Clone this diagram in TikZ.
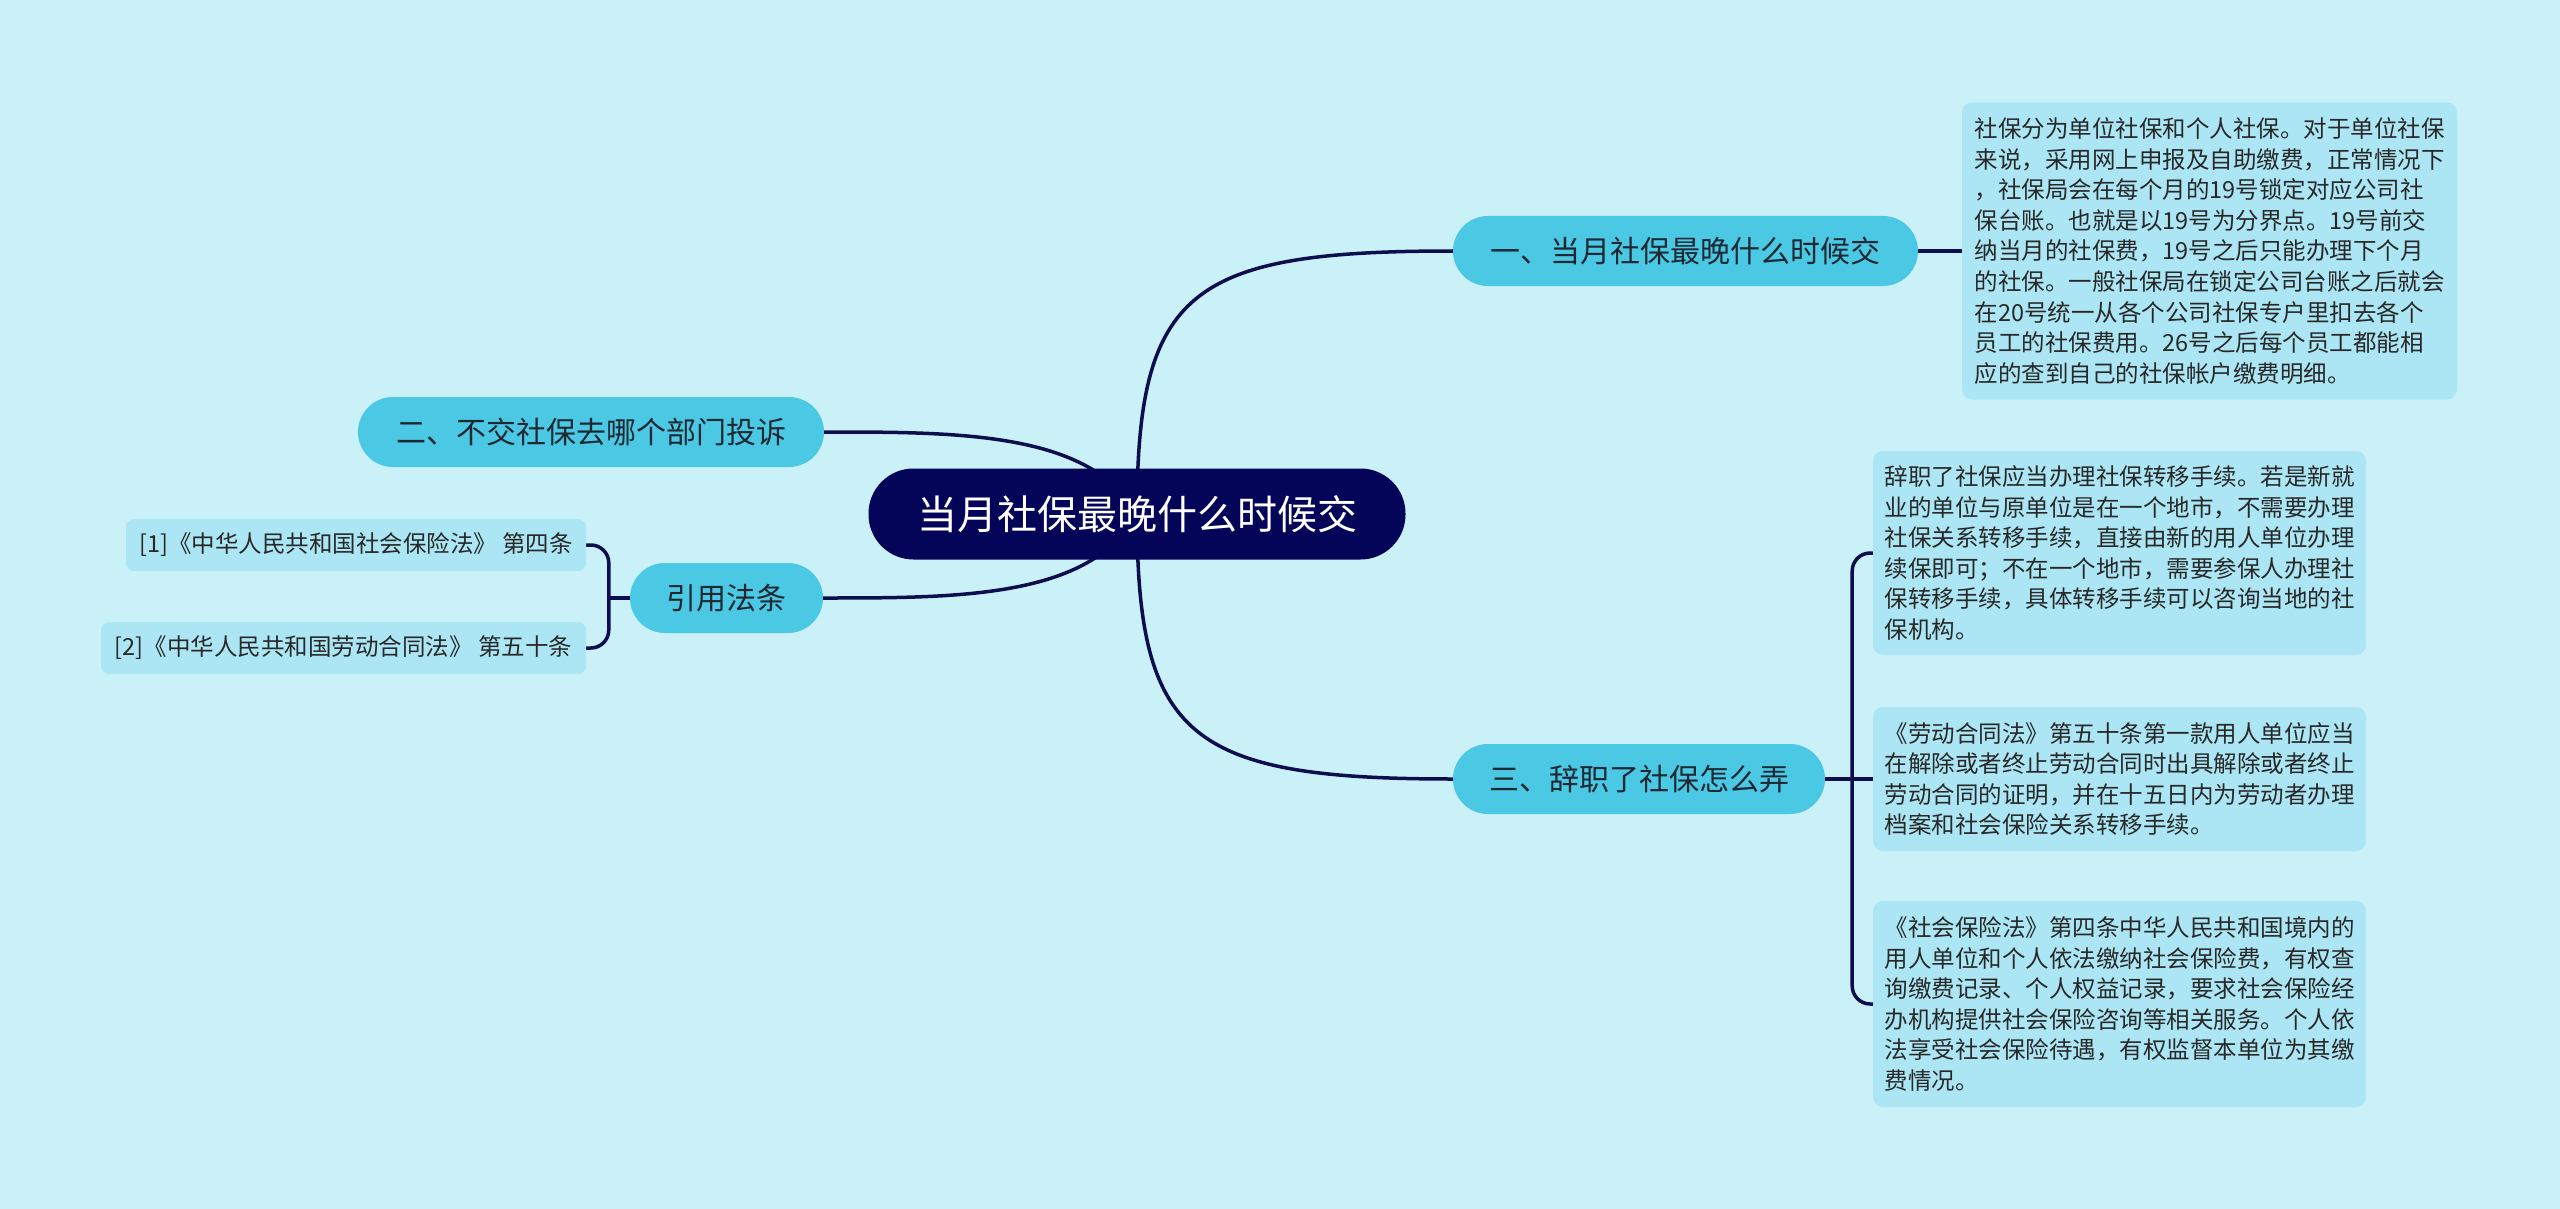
\documentclass[tikz,border=0pt]{standalone}
\usepackage{fontspec}
\setmainfont{Noto Sans CJK SC}
\pgfdeclarelayer{bg}
\pgfdeclarelayer{edges}
\pgfsetlayers{bg,edges,main}
\definecolor{bgc}{RGB}{202,240,248}
\definecolor{rootc}{RGB}{4,4,88}
\definecolor{topicc}{RGB}{75,200,228}
\definecolor{notec}{RGB}{172,230,244}
\definecolor{edgec}{RGB}{14,14,78}
\definecolor{textc}{RGB}{30,40,50}
\definecolor{textd}{RGB}{40,40,40}
\tikzset{
  edge/.style={draw=edgec, line width=3.5pt},
  rootbox/.style={fill=rootc, rounded corners=45pt, minimum width=537pt, minimum height=91pt, text=white, font=\fontsize{40}{48}\selectfont, inner sep=0pt},
  topicbox/.style={fill=topicc, rounded corners=35pt, minimum height=70pt, text=textc, font=\fontsize{30}{36}\selectfont, inner sep=0pt},
  notebox/.style={fill=notec, rounded corners=10pt, align=left, text=textd, font=\fontsize{23.5}{30.6}\selectfont, inner sep=0pt},
  refbox/.style={fill=notec, rounded corners=8pt, minimum height=52pt, text=textd, font=\fontsize{23.5}{28}\selectfont, inner sep=0pt},
}
\begin{document}
\begin{tikzpicture}[x=1pt,y=-1pt]
\useasboundingbox (0,0) rectangle (2560,1209);
\begin{pgfonlayer}{bg}
\fill[bgc] (0,0) rectangle (2560,1209);
\end{pgfonlayer}

\node[rootbox] (root) at (1137,514) {当月社保最晚什么时候交};

\node[topicbox, minimum width=465pt] (b1) at (1685.5,251) {一、当月社保最晚什么时候交};
\node[topicbox, minimum width=372pt] (b3) at (1639,779) {三、辞职了社保怎么弄};
\node[topicbox, minimum width=466pt] (b2) at (591,432) {二、不交社保去哪个部门投诉};
\node[topicbox, minimum width=193pt] (bref) at (726.5,598) {引用法条};

\node[refbox, minimum width=460pt] (r1) at (356,545) {[1]《中华人民共和国社会保险法》 第四条};
\node[refbox, minimum width=485pt] (r2) at (343.5,648) {[2]《中华人民共和国劳动合同法》 第五十条};

\node[notebox, minimum width=495pt, minimum height=297pt] (t1) at (2209.5,251) {社保分为单位社保和个人社保。对于单位社保\\来说，采用网上申报及自助缴费，正常情况下\\，社保局会在每个月的19号锁定对应公司社\\保台账。也就是以19号为分界点。19号前交\\纳当月的社保费，19号之后只能办理下个月\\的社保。一般社保局在锁定公司台账之后就会\\在20号统一从各个公司社保专户里扣去各个\\员工的社保费用。26号之后每个员工都能相\\应的查到自己的社保帐户缴费明细。};

\node[notebox, minimum width=493pt, minimum height=204pt] (t2) at (2119.5,553) {辞职了社保应当办理社保转移手续。若是新就\\业的单位与原单位是在一个地市，不需要办理\\社保关系转移手续，直接由新的用人单位办理\\续保即可；不在一个地市，需要参保人办理社\\保转移手续，具体转移手续可以咨询当地的社\\保机构。};

\node[notebox, minimum width=493pt, minimum height=144pt] (t3) at (2119.5,779) {《劳动合同法》第五十条第一款用人单位应当\\在解除或者终止劳动合同时出具解除或者终止\\劳动合同的证明，并在十五日内为劳动者办理\\档案和社会保险关系转移手续。};

\node[notebox, minimum width=493pt, minimum height=206pt] (t4) at (2119.5,1004) {《社会保险法》第四条中华人民共和国境内的\\用人单位和个人依法缴纳社会保险费，有权查\\询缴费记录、个人权益记录，要求社会保险经\\办机构提供社会保险咨询等相关服务。个人依\\法享受社会保险待遇，有权监督本单位为其缴\\费情况。};

\coordinate (j3) at ([xshift=27pt]b3.east);
\coordinate (jr) at ([xshift=-21pt]bref.west);

\begin{pgfonlayer}{edges}
\draw[edge] (root.center) .. controls +(0,-224) and +(-263,0) .. (b1.west);
\draw[edge] (root.center) .. controls +(0,224) and +(-263,0) .. (b3.west);
\draw[edge] (root.center) .. controls +(-47,-82) and +(136,0) .. (b2.east);
\draw[edge] (root.center) .. controls +(-47,84) and +(137,0) .. (bref.east);
\draw[edge] (b1.east) -- (t1.west);
\draw[edge] (b3.east) -- (j3);
\draw[edge, rounded corners=18pt] (j3) |- (t2.west);
\draw[edge] (j3) -- (t3.west);
\draw[edge, rounded corners=18pt] (j3) |- (t4.west);
\draw[edge] (bref.west) -- (jr);
\draw[edge, rounded corners=18pt] (jr) |- (r1.east);
\draw[edge, rounded corners=18pt] (jr) |- (r2.east);
\end{pgfonlayer}
\end{tikzpicture}
\end{document}
